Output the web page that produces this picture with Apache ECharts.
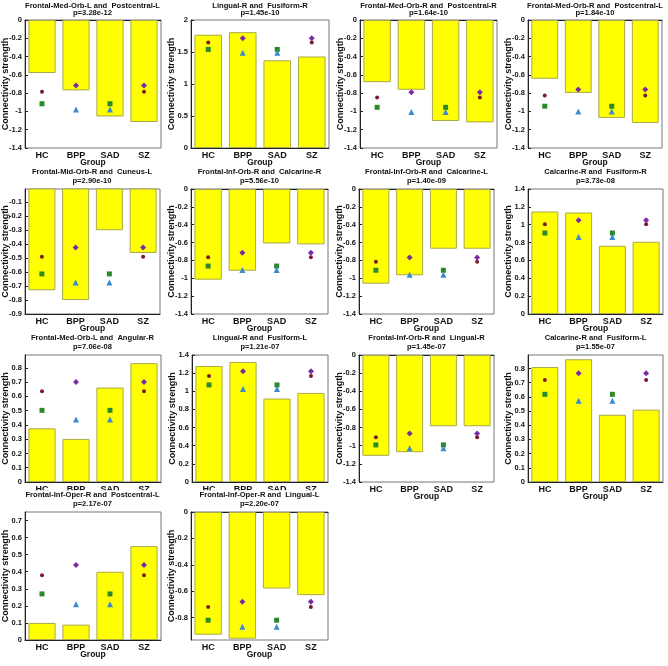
<!DOCTYPE html>
<html><head><meta charset="utf-8">
<script src="https://cdn.jsdelivr.net/npm/echarts@6/dist/echarts.min.js"></script>
<style>html,body{margin:0;padding:0;background:#fff}#c{width:668px;height:666px}</style>
</head><body><div id="c"></div>
<script>
// ---------- data ----------
const groups = ['HC', 'BPP', 'SAD', 'SZ'];
const regionPairs = [
  'Frontal-Med-Orb-L and  Postcentral-L',
  'Lingual-R and  Fusiform-R',
  'Frontal-Med-Orb-R and  Postcentral-R',
  'Frontal-Med-Orb-R and  Postcentral-L',
  'Frontal-Mid-Orb-R and  Cuneus-L',
  'Frontal-Inf-Orb-R and  Calcarine-R',
  'Frontal-Inf-Orb-R and  Calcarine-L',
  'Calcarine-R and  Fusiform-R',
  'Frontal-Med-Orb-L and  Angular-R',
  'Lingual-R and  Fusiform-L',
  'Frontal-Inf-Orb-R and  Lingual-R',
  'Calcarine-R and  Fusiform-L',
  'Frontal-Inf-Oper-R and  Postcentral-L',
  'Frontal-Inf-Oper-R and  Lingual-L'
];
const pValues = ['3.28e-12','1.45e-10','1.64e-10','1.84e-10','2.90e-10','5.56e-10','1.40e-09',
                 '3.73e-08','7.06e-08','1.21e-07','1.45e-07','1.55e-07','2.17e-07','2.20e-07'];
// bar heights per group (one entry per panel)
const barHC  = [-0.58, 1.77, -0.68, -0.643, -0.73, -1.015, -1.06, 1.148, 0.376, 1.279, -1.111, 0.81, 0.10, -0.93];
const barBPP = [-0.77, 1.81, -0.763, -0.797, -0.80, -0.915, -0.966, 1.137, 0.302, 1.323, -1.071, 0.865, 0.09, -0.96];
const barSAD = [-1.055, 1.37, -1.105, -1.071, -0.30, -0.61, -0.669, 0.764, 0.662, 0.92, -0.785, 0.474, 0.40, -0.58];
const barSZ  = [-1.116, 1.43, -1.12, -1.126, -0.463, -0.62, -0.669, 0.809, 0.833, 0.982, -0.785, 0.51, 0.55, -0.63];
// pairwise markers (value drawn over both groups of the pair)
const markHCSZ   = [-0.785, 1.65, -0.848, -0.826, -0.49, -0.763, -0.814, 1.005, 0.636, 1.169, -0.908, 0.719, 0.38, -0.72];
const markHCSAD  = [-0.916, 1.54, -0.955, -0.943, -0.613, -0.863, -0.91, 0.907, 0.502, 1.07, -0.991, 0.618, 0.27, -0.82];
const markBPPSAD = [-0.98, 1.49, -1.005, -1.0, -0.674, -0.907, -0.959, 0.862, 0.438, 1.026, -1.027, 0.572, 0.21, -0.87];
const markBPPSZ  = [-0.716, 1.715, -0.79, -0.76, -0.424, -0.715, -0.766, 1.05, 0.70, 1.222, -0.865, 0.767, 0.44, -0.68];
// y-axis ranges / tick steps
const yMin  = [-1.4, 0, -1.4, -1.4, -0.9, -1.4, -1.4, 0, 0, 0, -1.4, 0, 0, -0.97];
const yMax  = [0, 2, 0, 0, -0.005, 0, 0, 1.4, 0.89, 1.4, 0, 0.895, 0.75, 0];
const yStep = [0.2, 0.5, 0.2, 0.2, 0.1, 0.2, 0.2, 0.2, 0.1, 0.2, 0.2, 0.1, 0.1, 0.2];

// ---------- layout ----------
const rects = [
  [24,20,137,128],[191,20,138,128],[360,20,137,128],[528,20,134,128],
  [24,189,136,125],[191,189,137,125],[359,189,135,125],[528,189,135,125],
  [24,355,137,127],[192,355,136,127],[359,355,135,127],[528,355,135,127],
  [24,512,137,128],[191,512,137,128]
];
const FONT = 'Arial, "Liberation Sans", Helvetica, sans-serif';
const fmt = v => String(Math.round(v * 100) / 100);

function ticks(i) {
  const s = yStep[i], out = [];
  const k0 = Math.ceil(yMin[i] / s - 1e-6), k1 = Math.floor(yMax[i] / s + 1e-6);
  for (let k = k0; k <= k1; k++) out.push(Math.round(k * s * 1000) / 1000);
  return out;
}

const grid = [], xAxis = [], yAxis = [], series = [], graphic = [];
regionPairs.forEach((name, i) => {
  const [l, t, w, h] = rects[i];
  grid.push({left: l, top: t, width: w, height: h, show: true, borderColor: '#777', borderWidth: 1, backgroundColor: 'transparent', containLabel: false});
  xAxis.push({
    type: 'category', gridIndex: i, data: groups,
    axisLine: {lineStyle: {color: '#222', width: 1}},
    axisTick: {show: false},
    axisLabel: {color: '#111', fontFamily: FONT, fontWeight: 'bold', fontSize: 9, margin: 3},
    name: 'Group', nameLocation: 'middle', nameGap: 10, nameMoveOverlap: false,
    nameTextStyle: {color: '#111', fontFamily: FONT, fontWeight: 'bold', fontSize: 8.5}
  });
  const tv = ticks(i);
  yAxis.push({
    type: 'value', gridIndex: i, min: yMin[i], max: yMax[i],
    axisLine: {show: true, lineStyle: {color: '#222', width: 1}},
    axisTick: {show: true, inside: true, length: 3, customValues: tv, lineStyle: {color: '#222'}},
    axisLabel: {customValues: tv, formatter: fmt, color: '#111', fontFamily: FONT, fontWeight: 'bold', fontSize: 7.5, margin: 3},
    splitLine: {show: false},
    name: 'Connectivity strength', nameLocation: 'middle', nameGap: 15, nameMoveOverlap: false,
    nameTextStyle: {color: '#111', fontFamily: FONT, fontWeight: 'bold', fontSize: 9}
  });
  series.push({
    type: 'bar', xAxisIndex: i, yAxisIndex: i, barWidth: '80%',
    data: [barHC[i], barBPP[i], barSAD[i], barSZ[i]],
    itemStyle: {color: '#ffff00', borderColor: '#a9a94a', borderWidth: 1},
    silent: true, z: 2
  });
  const mk = (vals, a, b, symbol, size, color) => ({
    type: 'scatter', xAxisIndex: i, yAxisIndex: i, symbol, symbolSize: size,
    data: [[a, vals[i]], [b, vals[i]]], itemStyle: {color, opacity: 1}, z: 4, silent: true
  });
  series.push(mk(markHCSZ, 'HC', 'SZ', 'circle', 4, '#7a1a2a'));
  series.push(mk(markHCSAD, 'HC', 'SAD', 'rect', 5, '#2a8a2a'));
  series.push(mk(markBPPSAD, 'BPP', 'SAD', 'triangle', 6, '#3a8ad0'));
  series.push(mk(markBPPSZ, 'BPP', 'SZ', 'diamond', 6, '#7a2aa8'));
  const dy = (i < 4) ? 10.5 : 12.8;
  const lastRow = i >= 12;
  graphic.push({
    type: 'text', x: l + w / 2, y: t - dy, z: 100,
    style: {text: name + '\np=' + pValues[i], align: 'center', textAlign: 'center', verticalAlign: 'middle', textVerticalAlign: 'middle',
            font: 'bold 7.6px ' + FONT, fill: '#111', lineHeight: (i < 4) ? 7.8 : 8.5,
            backgroundColor: lastRow ? '#fff' : 'transparent', padding: lastRow ? [1, 4, 0, 4] : 0}
  });
});

const chart = echarts.init(document.getElementById('c'), null, {renderer: 'canvas'});
chart.setOption({animation: false, backgroundColor: '#fff', grid, xAxis, yAxis, series, graphic});
</script></body></html>
